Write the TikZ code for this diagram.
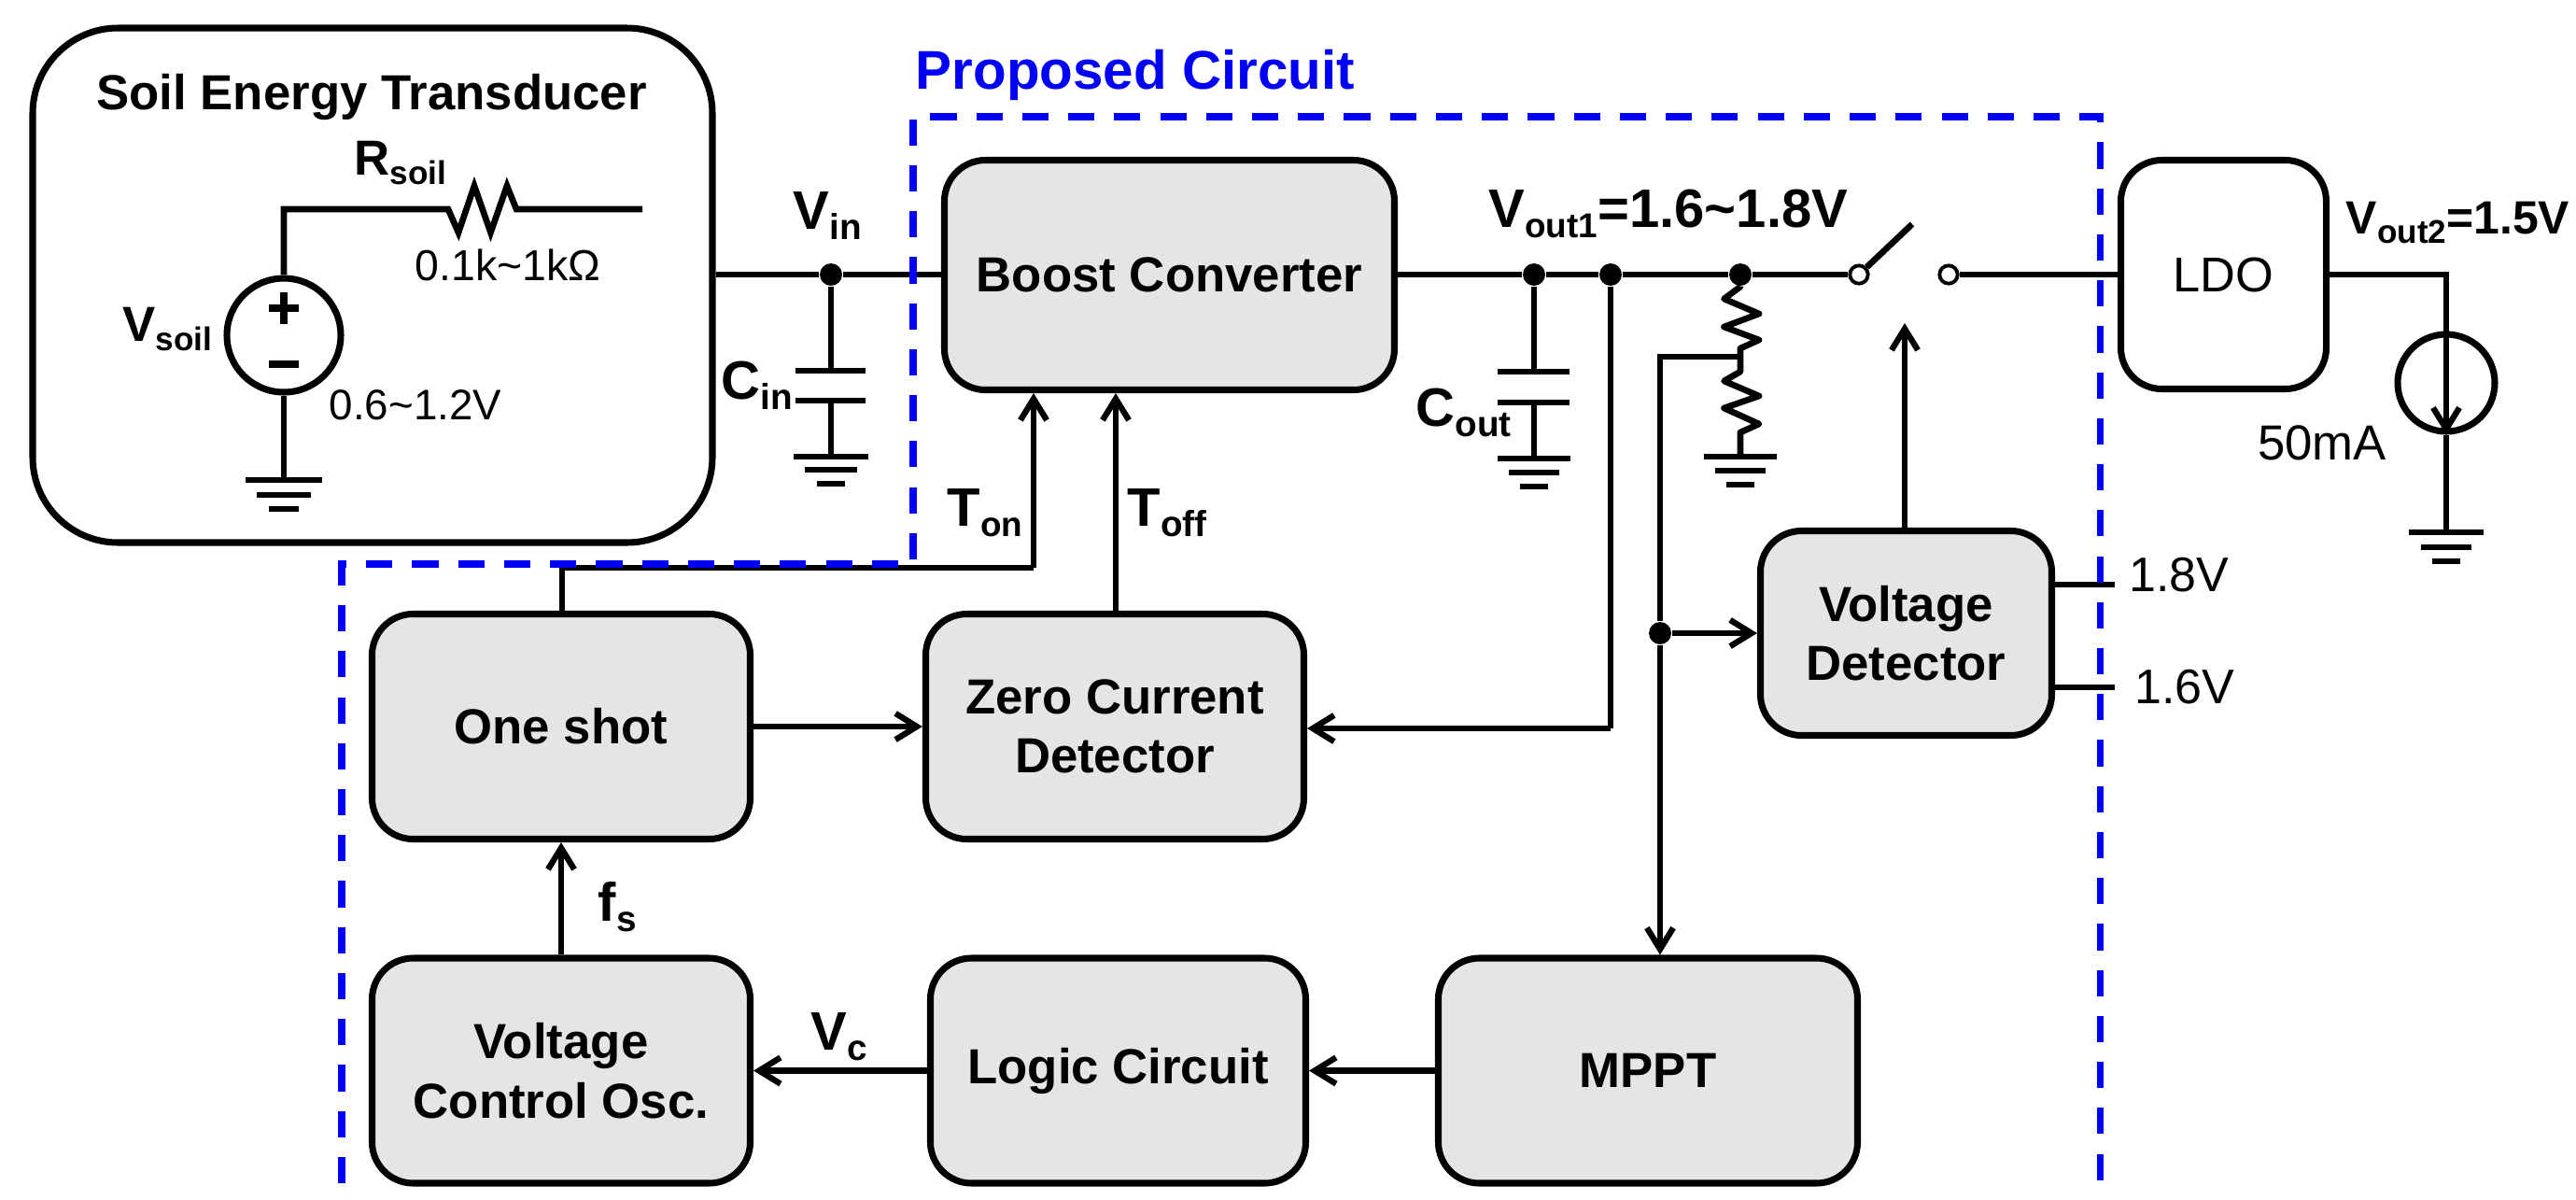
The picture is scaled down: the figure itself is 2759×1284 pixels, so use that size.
\documentclass[tikz,border=0pt]{standalone}
\usepackage{fontspec}
\setmainfont{Liberation Sans}
\usetikzlibrary{arrows.meta}
\definecolor{boxgray}{RGB}{229,229,229}
\definecolor{dashblue}{RGB}{0,0,245}
\newcommand{\subs}[3]{\raisebox{#2}{\fontsize{#1}{12}\selectfont #3}}
\tikzset{
 wire/.style={line width=1.9pt,line join=miter},
 arr/.style={wire,-{Straight Barb[length=6.5pt,width=8pt,line width=1.8pt]}},
 gbox/.style={draw,line width=2pt,fill=boxgray,rounded corners=12.5pt,inner sep=0pt,align=center,font=\bfseries\fontsize{15}{18}\selectfont},
 wbox/.style={draw,line width=2pt,fill=white,rounded corners=12.5pt,inner sep=0pt,align=center},
 bt/.style={font=\bfseries\fontsize{15}{19}\selectfont,inner sep=0pt,anchor=base west},
 bl/.style={font=\bfseries\fontsize{16.5}{19}\selectfont,inner sep=0pt,anchor=base west},
 nt/.style={font=\fontsize{13.2}{16}\selectfont,inner sep=0pt,anchor=base},
 nb/.style={font=\fontsize{14.8}{16}\selectfont,inner sep=0pt,anchor=base},
 dot/.style={circle,fill=black,inner sep=0pt,minimum size=6.8pt},
 odot/.style={circle,draw,line width=1.1pt,fill=white,inner sep=0pt,minimum size=5.5pt},
 dashbox/.style={draw=dashblue,line width=2pt,dash pattern=on 8pt off 6pt},
 bar/.style={line width=1.9pt}
}
\newcommand{\boxat}[7]{\node[#1,minimum width=#4*0.01cm,minimum height=#5*0.01cm] (#2) at (#6,#7) {#3};}
\newcommand{\grnd}[7]{%
 \draw[bar] (#1-#2,#3)--(#1+#2,#3);
 \draw[bar] (#1-#4,#5)--(#1+#4,#5);
 \draw[bar] (#1-#6,#7)--(#1+#6,#7);}
\begin{document}
\begin{tikzpicture}[x=0.01cm,y=-0.01cm]
\useasboundingbox (0,0) rectangle (2759,1284);
\fill[white] (0,0) rectangle (2759,1284);
\node[font=\bfseries\fontsize{16.6}{20}\selectfont,text=dashblue,inner sep=0pt,anchor=base west] (title) at (980,95) {Proposed Circuit};
% soil box
\node[draw,line width=2pt,rounded corners=26pt,minimum width=728*0.01cm,minimum height=551*0.01cm,inner sep=0pt] (soil) at (399,305.5) {};
\node[bt,anchor=base] (soiltitle) at (398,117) {Soil Energy Transducer};
% blocks
\boxat{gbox}{boost}{Boost Converter}{482}{246}{1252.5}{294.5}
\boxat{gbox}{oneshot}{One shot}{405}{241}{601}{778}
\boxat{gbox}{zcd}{Zero Current\\Detector}{405}{241}{1194}{778}
\boxat{gbox}{vco}{Voltage\\Control Osc.}{405}{241}{601}{1146.5}
\boxat{gbox}{logic}{Logic Circuit}{402}{241}{1197.5}{1146.5}
\boxat{gbox}{mppt}{MPPT}{449}{241}{1765}{1146.5}
\boxat{gbox}{vdet}{Voltage\\Detector}{312}{219}{2041.5}{678}
\node[wbox,font=\fontsize{14.9}{18}\selectfont,minimum width=220*0.01cm,minimum height=245*0.01cm] (ldo) at (2381.5,294) {LDO};
% source
\node[draw,circle,minimum size=122*0.01cm,inner sep=0pt,line width=2pt] (vs) at (304,359) {};
\draw[line width=2pt] (304,313)--(304,347) (288,330)--(320,330);
\draw[line width=2.4pt] (288,390)--(320,390);
\coordinate (rs) at (304,224);
\coordinate (rend) at (688,224);
\draw[wire] (vs.north)--(rs)--(480,224)--(491,249)--(508,199)--(525.5,249)--(543,199)--(553,224)--(rend);
\coordinate (g1) at (304,514);
\draw[wire] (vs.south)--(g1);
\grnd{304}{41}{514}{29}{530}{16}{545}
\node[bt] (vsoil) at (131,365) {V\subs{10}{-3pt}{soil}};
\node[bt] (rsoil) at (379,187) {R\subs{10}{-3pt}{soil}};
\node[nt] (rval) at (544,300) {0.1k\textasciitilde 1kΩ};
\node[nt,font=\fontsize{13}{16}\selectfont] (vval) at (445,449) {0.6\textasciitilde 1.2V};
% input
\node[dot] (ndin) at (890,294) {};
\draw[wire] (soil.east|-ndin)--(ndin)--(ndin-|boost.west);
\coordinate (cin1) at (890,397);
\coordinate (cin2) at (890,429);
\coordinate (cin3) at (890,489);
\draw[wire] (ndin)--(cin1) (cin2)--(cin3);
\draw[bar] (852,397)--(927,397) (852,429)--(927,429);
\grnd{890}{40}{489}{28}{503}{15}{518}
\node[bl] (vin) at (849,245) {V\subs{11}{-3.2pt}{in}};
\node[bl] (cinl) at (772,427) {C\subs{11}{-3.2pt}{in}};
% output
\node[dot] (n1) at (1643,294) {};
\node[dot] (n2) at (1725,294) {};
\node[dot] (n3) at (1864,294) {};
\node[odot] (s1) at (1991,294) {};
\node[odot] (s2) at (2087,294) {};
\draw[wire] (boost.east|-n1)--(n1)--(n2)--(n3)--(s1);
\draw[wire] (s2)--(s2-|ldo.west);
\coordinate (swtip) at (2048,240);
\draw[wire] (s1)--(swtip);
\coordinate (c1) at (1643,398);
\coordinate (c2) at (1643,431);
\coordinate (c3) at (1643,491);
\draw[wire] (n1)--(c1) (c2)--(c3);
\draw[bar] (1604,398)--(1681,398) (1604,431)--(1681,431);
\grnd{1643}{39}{491}{27}{506}{15}{521}
\node[bl] (cout) at (1516,456) {C\subs{11}{-3.2pt}{out}};
\node[bl] (vout1) at (1594,243) {V\subs{10.5}{-3.2pt}{out1}=1.6\textasciitilde 1.8V};
% divider
\coordinate (tap) at (1864,382);
\coordinate (gd) at (1864,489);
\draw[wire,line join=round] (n3)--(1864,307)--(1846.5,320)--(1884,336)--(1846.5,350)--(1884,364)--(1864,373)--(tap)
 --(1864,398)--(1846.5,408)--(1884,424)--(1846.5,437)--(1884,454)--(1864,463)--(gd);
\grnd{1864}{39}{489}{27}{504}{15}{519}
\coordinate (tapl) at (1778,382);
\node[dot] (nv) at (1778,678) {};
\draw[wire] (tap)--(tapl)--(nv);
\draw[arr] (nv)--(nv|-mppt.north);
\draw[arr] (nv)--(nv-|vdet.west);
\coordinate (swctl) at (2040,346);
\draw[arr] (vdet.north-|swctl)--(swctl);
% vdet stubs
\coordinate (st18) at (2265,626);
\coordinate (st16) at (2265,736);
\draw[wire] (vdet.east|-st18)--(st18);
\draw[wire] (vdet.east|-st16)--(st16);
\node[nb] (l18) at (2334,633) {1.8V};
\node[nb] (l16) at (2340,753) {1.6V};
% zcd feedback
\coordinate (zc) at (1725,780);
\draw[wire] (n2)--(zc);
\draw[arr] (zc)--(zc-|zcd.east);
% ton toff
\coordinate (a1) at (602,608);
\coordinate (a2) at (1107,608);
\coordinate (a3) at (1195,608);
\draw[wire] (oneshot.north-|a1)--(a1)--(a2);
\draw[arr] (a2)--(a2|-boost.south);
\draw[arr] (zcd.north-|a3)--(a3|-boost.south);
\node[bl] (ton) at (1014,563) {T\subs{10.5}{-3.2pt}{on}};
\node[bl] (toff) at (1207,563) {T\subs{11}{-3.2pt}{off}};
\draw[arr] (oneshot.east|-zcd)--(zcd.west);
\draw[arr] (vco.north)--(oneshot.south);
\node[bl] (fs) at (640,986) {f\subs{11}{-3.2pt}{s}};
\draw[arr] (mppt.west)--(logic.east);
\draw[arr] (logic.west)--(vco.east);
\node[bl] (vc) at (868,1124) {V\subs{11}{-3.2pt}{c}};
% load
\coordinate (o1) at (2620,294);
\node[draw,circle,line width=2pt,minimum size=104*0.01cm,inner sep=0pt] (is) at (2620,410) {};
\coordinate (g3) at (2620,570);
\draw[wire] (ldo.east|-o1)--(o1)--(is.north);
\draw[arr] (is.north)--(is.south);
\draw[wire] (is.south)--(g3);
\grnd{2620}{40}{570}{27}{586}{15}{601}
\node[bt,font=\bfseries\fontsize{14.2}{18}\selectfont] (vout2) at (2512,250) {V\subs{10}{-3pt}{out2}=1.5V};
\node[nb,font=\fontsize{15}{16}\selectfont] (ma) at (2487,492) {50mA};
% dashed region, drawn over the wires
\draw[dashbox] (366,1267)--(366,604)--(978,604)--(978,125)--(2249,125)--(2249,1267);
\end{tikzpicture}
\end{document}
